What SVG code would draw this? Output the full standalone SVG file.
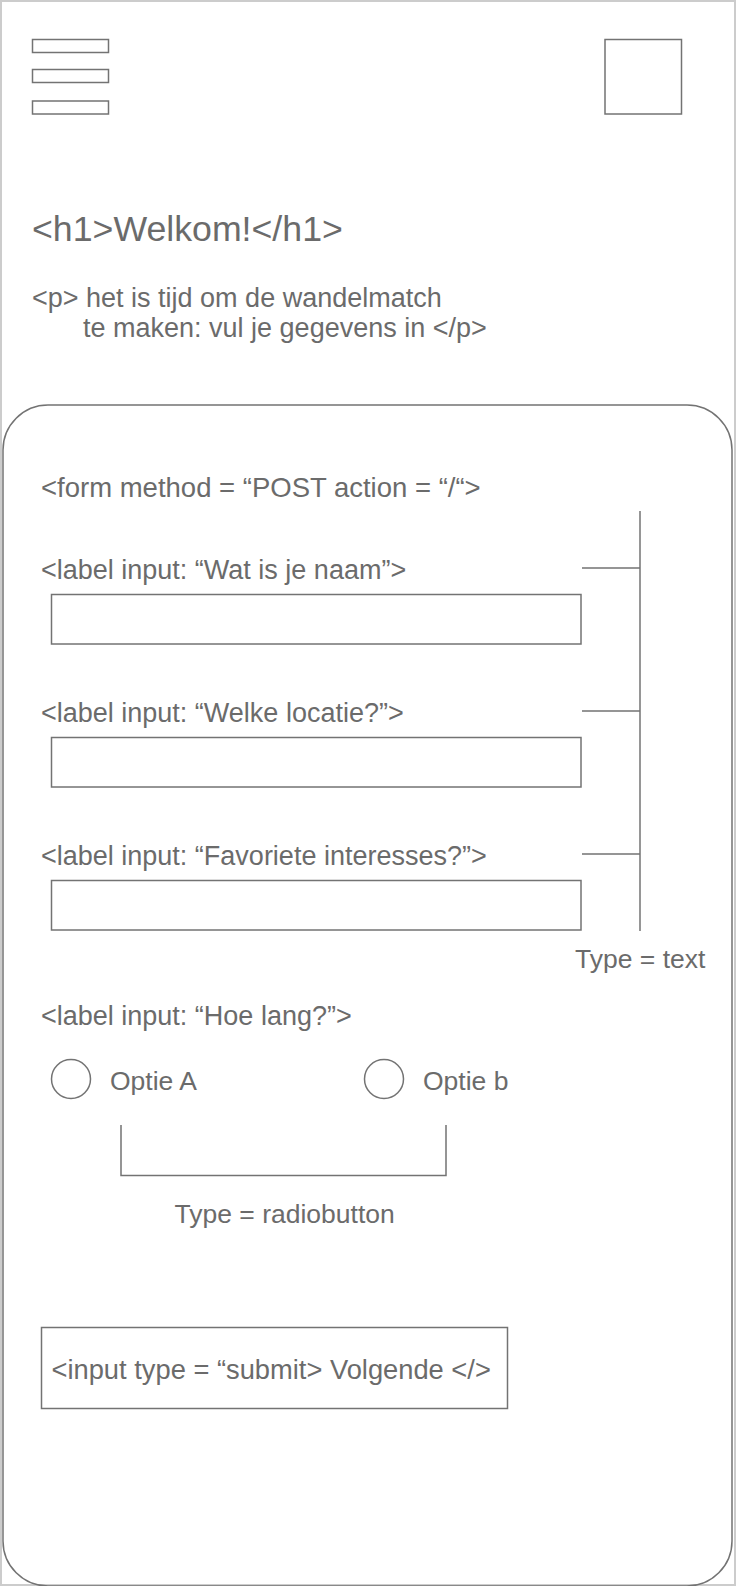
<svg xmlns="http://www.w3.org/2000/svg" width="736" height="1586" viewBox="0 0 736 1586">
<style>
.ln{fill:none;stroke:#737373;stroke-width:1.5}
.t{font-family:"Liberation Sans",Arial,Helvetica,sans-serif;fill:#6b6b6b;font-size:27px}
.h1{font-size:35.7px}
.s{font-size:26.5px}
</style>
<rect x="0" y="0" width="736" height="1586" fill="#ffffff"/>
<rect x="1" y="1" width="734" height="1584" fill="none" stroke="#cccccc" stroke-width="2"/>
<g id="menu">
<rect class="ln" x="32.5" y="39.5" width="76" height="13"/>
<rect class="ln" x="32.5" y="69.5" width="76" height="13"/>
<rect class="ln" x="32.5" y="101" width="76" height="13"/>
</g>
<g id="logo"><rect class="ln" x="605" y="39.5" width="76.5" height="74.5"/></g>
<g id="heading"><text class="t h1" x="32" y="241">&lt;h1&gt;Welkom!&lt;/h1&gt;</text></g>
<g id="intro">
<text class="t" x="32" y="307">&lt;p&gt; het is tijd om de wandelmatch</text>
<text class="t" x="83" y="337">te maken: vul je gegevens in &lt;/p&gt;</text>
</g>
<g id="form-panel">
<rect class="ln" x="3" y="405" width="729" height="1181" rx="45" ry="45"/>
<text class="t" x="41" y="497" style="font-size:27.5px">&lt;form method = “POST action = “/“&gt;</text>
</g>
<g id="field-name">
<text class="t" x="41" y="578.5">&lt;label input: “Wat is je naam”&gt;</text>
<rect class="ln" x="51.5" y="594.5" width="529.5" height="49.5"/>
</g>
<g id="field-location">
<text class="t" x="41" y="721.5">&lt;label input: “Welke locatie?”&gt;</text>
<rect class="ln" x="51.5" y="737.5" width="529.5" height="49.5"/>
</g>
<g id="field-interests">
<text class="t" x="41" y="864.5">&lt;label input: “Favoriete interesses?”&gt;</text>
<rect class="ln" x="51.5" y="880.5" width="529.5" height="49.5"/>
</g>
<g id="type-text"><text class="t s" x="575" y="968">Type = text</text></g>
<g id="field-duration">
<text class="t" x="41" y="1025">&lt;label input: “Hoe lang?”&gt;</text>
</g>
<g id="option-a">
<circle class="ln" cx="71" cy="1079" r="19.5"/>
<text class="t s" x="110" y="1090">Optie A</text>
</g>
<g id="option-b">
<circle class="ln" cx="384" cy="1079" r="19.5"/>
<text class="t s" x="423" y="1090">Optie b</text>
</g>
<g id="type-radio"><text class="t s" x="174.5" y="1223">Type = radiobutton</text></g>
<g id="submit">
<rect class="ln" x="41.5" y="1327.5" width="466" height="81"/>
<text class="t" x="51.5" y="1379" style="font-size:27.3px">&lt;input type = “submit&gt; Volgende &lt;/&gt;</text>
</g>
<g id="connectors">
<path class="ln" d="M640 511 V931"/>
<path class="ln" d="M582 568 H640 M582 711 H640 M582 854 H640"/>
<path class="ln" d="M121 1125 V1175.5 H446 V1125"/>
</g>
</svg>
